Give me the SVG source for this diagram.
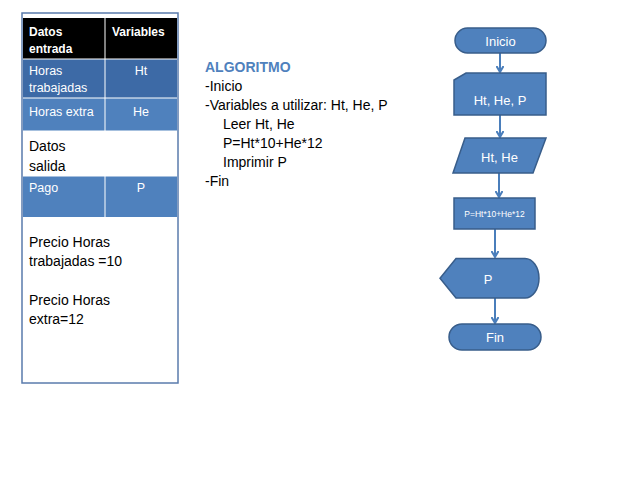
<svg xmlns="http://www.w3.org/2000/svg" width="638" height="479" viewBox="0 0 638 479">
<style>
text{font-family:"Liberation Sans",Arial,sans-serif}
.th{fill:#fff;font-size:12px;font-weight:bold}
.tc{fill:#fff;font-size:12.5px}
.tb{fill:#000;font-size:14px}
.alg{fill:#000;font-size:14px}
.shape{fill:#4f81bd;stroke:#385d8a;stroke-width:1.5}
.lbl{fill:#fff;font-size:13px;text-anchor:middle}
.conn{stroke:#4a7ebb;stroke-width:2;fill:none}
</style>
<defs>
<marker id="ah" markerWidth="8" markerHeight="8" refX="6" refY="4" orient="auto" markerUnits="userSpaceOnUse">
<path d="M0,0.5 L6,4 L0,7.5" fill="none" stroke="#4a7ebb" stroke-width="2"/>
</marker>
</defs>
<rect width="638" height="479" fill="#fff"/>
<g id="tabla">
<rect x="22" y="13" width="156" height="370" fill="#fff" stroke="#5a7bac" stroke-width="1.5"/>
<rect x="23" y="18" width="154" height="41" fill="#000"/>
<rect x="23" y="59" width="154" height="39" fill="#3d6aa6"/>
<rect x="23" y="98" width="154" height="33" fill="#4f81bd"/>
<rect x="23" y="176" width="154" height="41" fill="#4f81bd"/>
<line x1="105" y1="18" x2="105" y2="131" stroke="#fff" stroke-width="1"/>
<line x1="105" y1="176" x2="105" y2="217" stroke="#fff" stroke-width="1"/>
<line x1="23" y1="59" x2="177" y2="59" stroke="#fff" stroke-width="1"/>
<line x1="23" y1="98" x2="177" y2="98" stroke="#fff" stroke-width="1"/>
<line x1="23" y1="131" x2="177" y2="131" stroke="#fff" stroke-width="1"/>
<line x1="23" y1="176" x2="177" y2="176" stroke="#fff" stroke-width="1"/>
<text class="th" x="29" y="36">Datos</text>
<text class="th" x="29" y="53">entrada</text>
<text class="th" x="112" y="36">Variables</text>
<text class="tc" x="29" y="75">Horas</text>
<text class="tc" x="29" y="92">trabajadas</text>
<text class="tc" x="141" y="75" text-anchor="middle">Ht</text>
<text class="tc" x="29" y="116">Horas extra</text>
<text class="tc" x="141" y="116" text-anchor="middle">He</text>
<text class="tb" x="29" y="151">Datos</text>
<text class="tb" x="29" y="171">salida</text>
<text class="tc" x="29" y="192">Pago</text>
<text class="tc" x="141" y="192" text-anchor="middle">P</text>
<text class="tb" x="29" y="247">Precio Horas</text>
<text class="tb" x="29" y="266">trabajadas =10</text>
<text class="tb" x="29" y="305">Precio Horas</text>
<text class="tb" x="29" y="324">extra=12</text>
</g>
<g id="algoritmo">
<text x="205" y="72" fill="#4f81bd" font-size="14" font-weight="bold">ALGORITMO</text>
<text class="alg" x="205" y="91">-Inicio</text>
<text class="alg" x="205" y="110">-Variables a utilizar: Ht, He, P</text>
<text class="alg" x="223" y="129">Leer Ht, He</text>
<text class="alg" x="223" y="148">P=Ht*10+He*12</text>
<text class="alg" x="223" y="167">Imprimir P</text>
<text class="alg" x="205" y="186">-Fin</text>
</g>
<g id="conectores">
<line class="conn" x1="500" y1="53" x2="500" y2="72" marker-end="url(#ah)"/>
<line class="conn" x1="500" y1="115" x2="500" y2="137" marker-end="url(#ah)"/>
<line class="conn" x1="499" y1="173" x2="499" y2="197" marker-end="url(#ah)"/>
<line class="conn" x1="495" y1="229" x2="495" y2="257" marker-end="url(#ah)"/>
<line class="conn" x1="495" y1="298" x2="495" y2="323" marker-end="url(#ah)"/>
</g>
<g id="inicio">
<rect class="shape" x="455" y="28" width="91" height="25" rx="12.5"/>
<text class="lbl" x="500.5" y="45.5">Inicio</text>
</g>
<g id="tarjeta">
<path class="shape" d="M466,73 L546,73 L546,115 L454,115 L454,80 Z"/>
<text class="lbl" x="500" y="104.5">Ht, He, P</text>
</g>
<g id="leer">
<path class="shape" d="M465,138 L546,138 L533,173 L453,173 Z"/>
<text class="lbl" x="499.5" y="161.5">Ht, He</text>
</g>
<g id="proceso">
<rect class="shape" x="454" y="198" width="81" height="31"/>
<text x="494.5" y="216.5" fill="#fff" font-size="8.5" text-anchor="middle">P=Ht*10+He*12</text>
</g>
<g id="mostrar">
<path class="shape" d="M456,258.5 L525,258.5 A14,19.75 0 0 1 525,298 L456,298 L440,278.25 Z"/>
<text class="lbl" x="488" y="283.5">P</text>
</g>
<g id="fin">
<rect class="shape" x="449" y="324" width="92" height="26" rx="13"/>
<text class="lbl" x="495" y="341.5">Fin</text>
</g>
</svg>
